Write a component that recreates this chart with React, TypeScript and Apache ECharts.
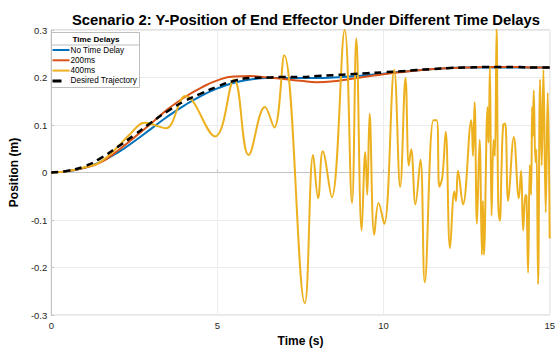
import React, { useEffect, useRef } from "react";
import * as echarts from "echarts";

const titleText = "Scenario 2: Y-Position of End Effector Under Different Time Delays";
const seriesNames = ["No Time Delay", "200ms", "400ms", "Desired Trajectory"];

// common time base for smooth curves (s)
const timeBase = [0, 0.5, 1, 1.5, 2, 2.5, 3, 3.5, 4, 4.5, 5, 5.5, 6, 6.5, 7, 7.5, 8, 8.5, 9, 9.5, 10, 10.5, 11, 11.5, 12, 12.5, 13, 13.5, 14, 14.5, 15];

const desiredPos = [0, 0.004, 0.013, 0.031, 0.054, 0.079, 0.105, 0.129, 0.15, 0.166, 0.181, 0.193, 0.199, 0.2, 0.201, 0.201, 0.203, 0.205, 0.207, 0.209, 0.211, 0.213, 0.216, 0.218, 0.22, 0.221, 0.222, 0.222, 0.222, 0.221, 0.221];
const noDelayPos = [0, 0.003, 0.01, 0.023, 0.042, 0.066, 0.092, 0.118, 0.141, 0.161, 0.177, 0.189, 0.196, 0.199, 0.199, 0.199, 0.199, 0.2, 0.202, 0.205, 0.208, 0.212, 0.215, 0.218, 0.22, 0.221, 0.221, 0.221, 0.221, 0.221, 0.221];
const delay200Pos = [0, 0.003, 0.01, 0.022, 0.046, 0.074, 0.103, 0.133, 0.158, 0.178, 0.194, 0.202, 0.203, 0.2, 0.197, 0.193, 0.19, 0.192, 0.197, 0.202, 0.207, 0.211, 0.215, 0.218, 0.22, 0.221, 0.222, 0.222, 0.222, 0.221, 0.221];

// 400 ms delay, sampled at its turning points (s, m)
const time400 = [0, 0.5, 1, 1.37, 1.67, 2.07, 2.36, 2.81, 3.1, 3.45, 4.04, 4.93, 5.5, 5.94, 6.43, 6.71, 7.01, 7.63, 7.88, 8.03, 8.17, 8.44, 8.83, 9.05, 9.18, 9.34, 9.45, 9.51, 9.58, 9.72, 9.85, 10.02, 10.32, 10.5, 10.66, 10.76, 10.83, 10.96, 11.11, 11.24, 11.5, 11.6, 11.68, 11.77, 11.87, 12.0, 12.13, 12.18, 12.24, 12.39, 12.64, 12.69, 12.74, 12.81, 12.89, 12.96, 12.99, 13.02, 13.13, 13.16, 13.2, 13.25, 13.31, 13.35, 13.4, 13.45, 13.5, 13.55, 13.6, 13.66, 13.75, 13.92, 14.07, 14.14, 14.2, 14.27, 14.3, 14.35, 14.4, 14.44, 14.47, 14.49, 14.52, 14.57, 14.6, 14.65, 14.71, 14.76, 14.81, 14.88, 14.94, 15.0];
const pos400 = [0, 0.003, 0.011, 0.018, 0.032, 0.059, 0.08, 0.105, 0.1, 0.093, 0.161, 0.076, 0.196, 0.037, 0.138, 0.095, 0.247, -0.275, 0.037, -0.054, 0.045, -0.052, 0.3, -0.064, 0.282, -0.122, 0.043, -0.047, 0.124, -0.131, -0.064, -0.108, 0.216, -0.03, 0.199, 0.015, 0.049, -0.067, 0.027, -0.231, 0.11, 0.11, -0.03, -0.009, 0.086, -0.159, -0.04, -0.06, 0.004, -0.067, 0.11, 0.035, 0.148, -0.108, 0.069, -0.173, -0.06, -0.173, 0.138, 0.063, 0.223, -0.091, 0.069, 0.035, 0.302, -0.06, -0.101, 0.008, 0.1, 0.103, -0.06, 0.075, -0.054, 0.004, -0.122, -0.047, -0.05, -0.211, 0.016, -0.047, 0.138, 0.076, 0.173, 0.022, 0.048, -0.235, 0.196, 0.015, 0.216, -0.084, 0.168, -0.139];

const xTicks = [0, 5, 10, 15];
const yTicks = [-0.3, -0.2, -0.1, 0, 0.1, 0.2, 0.3];

const colors = ["#0072BD", "#D95319", "#EDB120", "#000000"];
const FONT = "Liberation Sans, Arial, Helvetica, sans-serif";

const solidIcon = "path://M0,0h17v2h-17z";
const dashIcon = "path://M0,0h9v3h-9zM16.95,0h0.05v3h-0.05z";

function zip(xs: number[], ys: number[]) {
  return xs.map((x, i) => [x, ys[i]]);
}

export default function App() {
  const ref = useRef<HTMLDivElement>(null);
  useEffect(() => {
    if (!ref.current) return;
    const chart = echarts.init(ref.current, undefined, { renderer: "svg" });
    const option: any = {
      animation: false,
      backgroundColor: "#ffffff",
      textStyle: { fontFamily: FONT },
      title: {
        text: titleText,
        left: 301,
        textAlign: "center",
        top: 7,
        textStyle: { fontSize: 14.8, fontWeight: "bold", color: "#000", fontFamily: FONT },
      },
      grid: {
        left: 47,
        right: 4,
        top: 30,
        bottom: 29,
        show: true,
        borderColor: "#c4c4c4",
        borderWidth: 1,
      },
      xAxis: {
        type: "value",
        min: xTicks[0],
        max: xTicks[xTicks.length - 1],
        interval: 5,
        name: "Time (s)",
        nameLocation: "middle",
        nameGap: 14,
        nameTextStyle: { fontSize: 12, fontWeight: "bold", color: "#000", fontFamily: FONT },
        axisLine: { show: true, lineStyle: { color: "#c4c4c4" } },
        axisTick: { show: true, inside: true, length: 3, lineStyle: { color: "#c4c4c4" } },
        axisLabel: { fontSize: 9.5, color: "#262626", margin: 5, fontFamily: FONT },
        splitLine: { show: true, lineStyle: { color: "#ececec" } },
      },
      yAxis: {
        type: "value",
        min: yTicks[0],
        max: yTicks[yTicks.length - 1],
        interval: 0.1,
        name: "Position (m)",
        nameLocation: "middle",
        nameGap: 23,
        nameTextStyle: { fontSize: 12, fontWeight: "bold", color: "#000", fontFamily: FONT },
        axisLine: { show: true, lineStyle: { color: "#c4c4c4" } },
        axisTick: { show: true, inside: true, length: 3, lineStyle: { color: "#c4c4c4" } },
        axisLabel: {
          fontSize: 9.5,
          color: "#262626",
          margin: 4,
          fontFamily: FONT,
          formatter: (v: number) => String(Math.round(v * 10) / 10),
        },
        splitLine: { show: true, lineStyle: { color: "#ececec" } },
      },
      legend: {
        orient: "vertical",
        left: 52.5,
        top: 45,
        z: 200,
        itemWidth: 17,
        itemHeight: 3,
        itemGap: 0.3,
        padding: 0,
        itemStyle: { borderWidth: 0 },
        lineStyle: { width: 0 },
        data: [
          { name: seriesNames[0], icon: solidIcon },
          { name: seriesNames[1], icon: solidIcon },
          { name: seriesNames[2], icon: solidIcon },
          { name: seriesNames[3], icon: dashIcon },
        ],
        textStyle: { fontSize: 8.2, lineHeight: 10, color: "#000", fontFamily: FONT, padding: [0, 0, 0, -4] },
      },
      graphic: [
        {
          type: "rect",
          z: 100,
          shape: { x: 51.5, y: 32.5, width: 88, height: 55 },
          style: { fill: "#fff", stroke: "#bdbdbd", lineWidth: 1 },
        },
        {
          type: "line",
          z: 101,
          shape: { x1: 52, y1: 45, x2: 139, y2: 45 },
          style: { stroke: "#bdbdbd", lineWidth: 1 },
        },
        {
          type: "text",
          z: 101,
          x: 96,
          y: 39,
          style: {
            text: "Time Delays",
            font: "bold 8.1px " + FONT,
            fill: "#000",
            textAlign: "center",
            textVerticalAlign: "middle",
          },
        },
      ],
      series: [
        {
          name: seriesNames[0],
          type: "line",
          data: zip(timeBase, noDelayPos),
          smooth: 0.5,
          showSymbol: false,
          symbol: "none",
          lineStyle: { color: colors[0], width: 2 },
          itemStyle: { color: colors[0] },
        },
        {
          name: seriesNames[1],
          type: "line",
          data: zip(timeBase, delay200Pos),
          smooth: 0.5,
          showSymbol: false,
          symbol: "none",
          lineStyle: { color: colors[1], width: 2 },
          itemStyle: { color: colors[1] },
        },
        {
          name: seriesNames[2],
          type: "line",
          data: zip(time400, pos400),
          smooth: 0.4,
          showSymbol: false,
          symbol: "none",
          clip: true,
          lineStyle: { color: colors[2], width: 2 },
          itemStyle: { color: colors[2] },
        },
        {
          name: seriesNames[3],
          type: "line",
          data: zip(timeBase, desiredPos),
          smooth: 0.5,
          showSymbol: false,
          symbol: "none",
          lineStyle: { color: colors[3], width: 2.5, type: [7, 5] },
          itemStyle: { color: colors[3] },
        },
      ],
    };
    chart.setOption(option);
    return () => chart.dispose();
  }, []);
  return <div ref={ref} style={{ width: 558, height: 352, position: "absolute", left: 0, top: 0 }} />;
}
